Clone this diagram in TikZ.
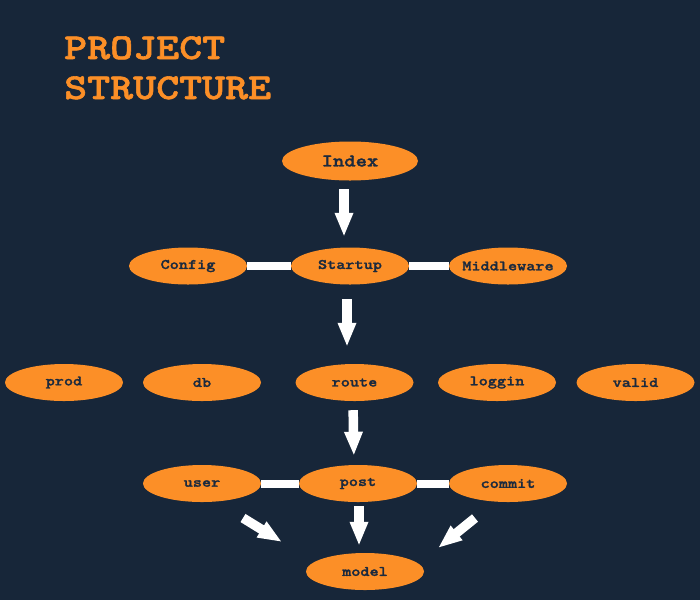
\documentclass[tikz,border=0pt]{standalone}
\usepackage{fontspec}
\newfontfamily\codefont{lmmonolt10-bold.otf}[FakeStretch=1.2, FakeBold=1.6]
\usetikzlibrary{shapes.geometric,arrows.meta}
\definecolor{navy}{HTML}{172639}
\definecolor{tangerine}{HTML}{FC8F27}
\definecolor{ink}{HTML}{1B2A3E}

\begin{document}
\begin{tikzpicture}[x=1pt, y=-1pt,
    part/.style={ellipse, fill=tangerine, minimum width=118pt, minimum height=37pt, inner xsep=-6pt, inner ysep=0pt, text=ink, font=\codefont\fontsize{14.5}{16}\selectfont},
    bar/.style={white, line width=8pt},
    push/.style={white, line width=9.5pt, -{Triangle[width=17pt,length=24pt]}}]
    % background
    \useasboundingbox (0,0) rectangle (700,600);
    \fill[navy] (0,0) rectangle (700,600);

    % title
    \node[anchor=base west, inner sep=0pt, align=left, text=tangerine, font=\codefont\fontsize{36.5}{40}\selectfont] (title) at (64,99) {PROJECT\\STRUCTURE};

    % draw nodes
    \node[part, minimum width=136pt, minimum height=39pt, font=\codefont\fontsize{18}{20}\selectfont] (index) at (350,161) {Index};
    \node[part] (config) at (188,266) {Config};
    \node[part] (startup) at (350,266) {Startup};
    \node[part] (middleware) at (508,266) {Middleware};

    \node[part] (prod) at (64,382.5) {prod};
    \node[part] (db) at (202,382.5) {db};
    \node[part] (route) at (354.5,382.5) {route};
    \node[part] (loggin) at (497,382.5) {loggin};
    \node[part] (valid) at (635.5,382.5) {valid};

    \node[part] (user) at (202,483.5) {user};
    \node[part] (post) at (358,483.5) {post};
    \node[part] (commit) at (508,483.5) {commit};

    \node[part] (model) at (365,571.5) {model};

    % draw bars
    \draw[bar] (config) -- (startup);
    \draw[bar] (startup) -- (middleware);
    \draw[bar] (user) -- (post);
    \draw[bar] (post) -- (commit);

    % draw arrows
    \draw[push, shorten <=8.5pt, shorten >=10.5pt] ([xshift=-6pt]index.south) -- ([xshift=-6pt]startup.north);
    \draw[push, shorten <=14.5pt, shorten >=17pt] ([xshift=-3pt]startup.south) -- ([xshift=-7.5pt]route.north);
    \draw[push, shorten <=9pt, shorten >=9pt] ([xshift=-1.5pt]route.south) -- ([xshift=-4pt]post.north);
    \draw[push, shorten <=4pt, shorten >=7pt] ([xshift=1pt]post.south) -- ([xshift=-6pt]model.north);
    \draw[push] ([shift={(41,34.5)}]user.center) -- ([shift={(-83,-29.5)}]model.center);
    \draw[push] ([shift={(-33,34.5)}]commit.center) -- ([shift={(73,-23.5)}]model.center);
\end{tikzpicture}
\end{document}
